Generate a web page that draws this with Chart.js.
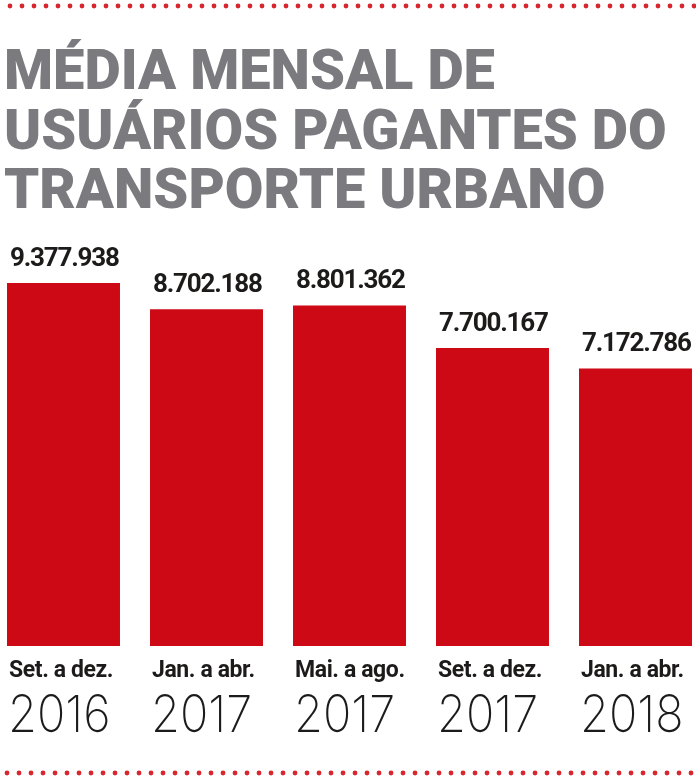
<!DOCTYPE html>
<html lang="pt-BR">
<head>
<meta charset="utf-8">
<title>Média mensal de usuários pagantes do transporte urbano</title>
<script src="https://cdn.jsdelivr.net/npm/chart.js@4"></script>
<style>
  html, body { margin: 0; padding: 0; background: #fff; }
  #wrap { position: relative; width: 696px; height: 780px; overflow: hidden; }
  #titulo {
    position: absolute; left: 4px; top: 41px; margin: 0;
    font-family: Roboto, "Open Sans", sans-serif; font-weight: 900;
    font-size: 56px; line-height: 59.5px; color: #7b7a7f;
    letter-spacing: 0px; white-space: nowrap;
  }
  #grafico { position: absolute; left: 0; top: 0; }
</style>
</head>
<body>
<div id="wrap">
  <canvas id="grafico" width="696" height="780"></canvas>
  <h1 id="titulo">MÉDIA MENSAL DE<br>USUÁRIOS PAGANTES DO<br>TRANSPORTE URBANO</h1>
</div>
<script>
// Dados do gráfico
const periodos = ["Set. a dez.", "Jan. a abr.", "Mai. a ago.", "Set. a dez.", "Jan. a abr."];
const anos = ["2016", "2017", "2017", "2017", "2018"];
const usuarios = [9377938, 8702188, 8801362, 7700167, 7172786];

const VERMELHO = "#cc0914";
const TEXTO = "#1d1a1a";

// 9377938 -> "9.377.938"
function formatar(n) {
  return String(n).replace(/\B(?=(\d{3})+(?!\d))/g, ".");
}

// Bolinhas vermelhas em cima e embaixo
const bordaPontilhada = {
  id: "bordaPontilhada",
  beforeDraw(chart) {
    const ctx = chart.ctx;
    ctx.save();
    ctx.fillStyle = "#d8262e";
    for (let x = 10; x < chart.width; x += 12) {
      ctx.beginPath(); ctx.arc(x, 6, 2.4, 0, Math.PI * 2); ctx.fill();
    }
    for (let x = 7; x < chart.width; x += 12) {
      ctx.beginPath(); ctx.arc(x, 773, 2.4, 0, Math.PI * 2); ctx.fill();
    }
    ctx.restore();
  }
};

// Valores acima das barras e rótulos (período + ano) abaixo
const rotulos = {
  id: "rotulos",
  afterDatasetsDraw(chart) {
    const ctx = chart.ctx;
    const meta = chart.getDatasetMeta(0);
    const base = chart.scales.y.getPixelForValue(0);
    ctx.save();
    ctx.fillStyle = TEXTO;
    ctx.textAlign = "left";
    ctx.textBaseline = "alphabetic";
    meta.data.forEach((bar, i) => {
      const esq = bar.x - bar.width / 2;

      ctx.font = "bold 26px Roboto, sans-serif";
      ctx.letterSpacing = "-1.2px";
      ctx.fillText(formatar(chart.data.datasets[0].data[i]), esq + 3, bar.y - 17);

      const lab = chart.data.labels[i];
      ctx.font = "bold 23px Roboto, sans-serif";
      ctx.letterSpacing = "-0.4px";
      ctx.fillText(lab[0], esq + 2, base + 31);

      ctx.font = "200 51px Inter, 'DejaVu Sans', sans-serif";
      ctx.letterSpacing = "0px";
      ctx.save();
      ctx.translate(esq + 1, base + 86);
      ctx.scale(0.92, 1);
      ctx.fillText(lab[1], 0, 0);
      ctx.restore();
    });
    ctx.restore();
  }
};

new Chart(document.getElementById("grafico"), {
  type: "bar",
  data: {
    labels: periodos.map((p, i) => [p, anos[i]]),
    datasets: [{
      label: "Usuários pagantes (média mensal)",
      data: usuarios,
      backgroundColor: VERMELHO,
      borderWidth: 0,
      barPercentage: 0.79,
      categoryPercentage: 1,
      clip: false
    }]
  },
  options: {
    responsive: false,
    animation: false,
    layout: {
      padding: { top: 259, bottom: 134, left: 63.5, right: 60.5 }
    },
    plugins: {
      legend: { display: false },
      tooltip: { enabled: false }
    },
    scales: {
      x: { display: false, offset: false, grid: { display: false } },
      y: { display: false, min: 0, max: 10000000, grid: { display: false } }
    }
  },
  plugins: [bordaPontilhada, rotulos]
});
</script>
</body>
</html>
